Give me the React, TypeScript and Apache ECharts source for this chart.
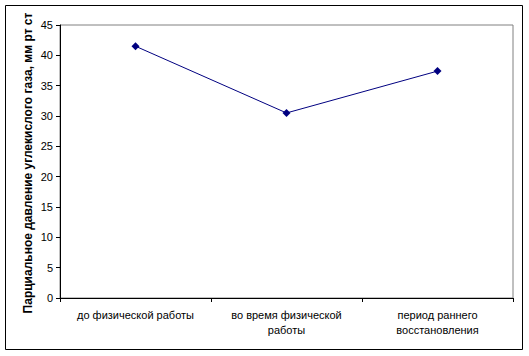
import React, { useEffect, useRef } from "react";
import * as echarts from "echarts";

const categories = ["до физической работы", "во время физической работы", "период раннего восстановления"];
const values = [41.5, 30.5, 37.4];
const yTitle = "Парциальное давление углекислого газа, мм рт ст";

function wrap(s: string, max: number): string {
  const words = s.split(" ");
  const lines: string[] = [];
  let cur = "";
  for (const w of words) {
    if (cur && (cur + " " + w).length > max) {
      lines.push(cur);
      cur = w;
    } else {
      cur = cur ? cur + " " + w : w;
    }
  }
  if (cur) lines.push(cur);
  return lines.join("\n");
}

export default function App() {
  const ref = useRef<HTMLDivElement>(null);
  useEffect(() => {
    if (!ref.current) return;
    const chart = echarts.init(ref.current, null, { renderer: "svg" });
    const font = "'Liberation Sans', Arial, sans-serif";
    chart.setOption({
      animation: false,
      backgroundColor: "#ffffff",
      textStyle: { fontFamily: font },
      grid: {
        left: 60,
        top: 25,
        right: 16,
        bottom: 58,
        show: true,
        borderColor: "#808080",
        borderWidth: 1,
        backgroundColor: "transparent",
        containLabel: false,
        outerBoundsMode: "none",
      },
      graphic: [
        {
          type: "rect",
          shape: { x: 5.5, y: 5.5, width: 517, height: 344 },
          style: { fill: "none", stroke: "#000000", lineWidth: 1 },
          silent: true,
        },
        {
          type: "text",
          x: 28,
          y: 163,
          rotation: Math.PI / 2,
          style: {
            text: yTitle,
            fontFamily: font,
            fontSize: 12,
            fontWeight: "bold",
            fill: "#000000",
            align: "center",
            verticalAlign: "middle",
          },
        },
      ],
      xAxis: {
        type: "category",
        data: categories,
        boundaryGap: true,
        axisLine: { lineStyle: { color: "#000000", width: 1 } },
        axisTick: { show: true, length: 4, inside: false, lineStyle: { color: "#000000" } },
        axisLabel: {
          color: "#000000",
          fontSize: 11,
          fontFamily: font,
          margin: 9,
          lineHeight: 15,
          interval: 0,
          hideOverlap: false,
          formatter: (v: string) => wrap(v, 20),
        },
        splitLine: { show: false },
      },
      yAxis: {
        type: "value",
        min: 0,
        max: 45,
        interval: 5,
        axisLine: { show: true, lineStyle: { color: "#000000", width: 1 } },
        axisTick: { show: true, length: 4, lineStyle: { color: "#000000" } },
        axisLabel: { color: "#000000", fontSize: 11, fontFamily: font, margin: 7 },
        splitLine: { show: false },
      },
      series: [
        {
          type: "line",
          data: values,
          symbol: "diamond",
          symbolSize: 8,
          lineStyle: { color: "#000080", width: 1 },
          itemStyle: { color: "#000080" },
        },
      ],
    });
    return () => chart.dispose();
  }, []);
  return (
    <div
      ref={ref}
      style={{ position: "fixed", left: 0, top: 0, width: 529, height: 356 }}
    />
  );
}
